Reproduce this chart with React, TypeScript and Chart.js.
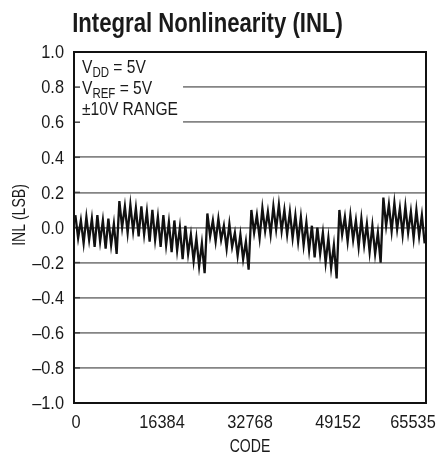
import React, { useEffect, useRef } from 'react';
import { Chart, registerables } from 'chart.js';

Chart.register(...registerables);

const TITLE = 'Integral Nonlinearity (INL)';
const X_TITLE = 'CODE';
const Y_TITLE = 'INL (LSB)';
const X_TICKS = [0, 16384, 32768, 49152, 65535];
const Y_TICKS = [-1, -0.8, -0.6, -0.4, -0.2, 0, 0.2, 0.4, 0.6, 0.8, 1];
const CODES_PER_TOOTH = 1024;

// peak of each 1024-code tooth (LSB)
const TOOTH_PEAKS = [
  0.07, 0.04, 0.06, 0.05, 0.07, 0.04, 0.05, 0.02,
  0.15, 0.12, 0.13, 0.11, 0.12, 0.09, 0.10, 0.06, 0.07, 0.03, 0.04, 0.00, 0.01, -0.04, -0.06, -0.09,
  0.08, 0.04, 0.05, 0.01, 0.02, -0.03, -0.04, -0.08,
  0.10, 0.07, 0.11, 0.09, 0.12, 0.13, 0.10, 0.09, 0.07, 0.06, 0.03, 0.01, 0.00, -0.03, -0.06, -0.10,
  0.10, 0.06, 0.07, 0.04, 0.05, 0.02, 0.01, -0.03,
  0.17, 0.13, 0.14, 0.11, 0.12, 0.09, 0.10, 0.07,
];
// trough of each 1024-code tooth (LSB)
const TOOTH_TROUGHS = [
  -0.06, -0.09, -0.07, -0.11, -0.08, -0.12, -0.10, -0.15,
  0.00, -0.03, -0.02, -0.05, -0.04, -0.08, -0.07, -0.11, -0.10, -0.14, -0.13, -0.18, -0.15, -0.19, -0.22, -0.26,
  -0.05, -0.08, -0.07, -0.12, -0.11, -0.16, -0.18, -0.24,
  -0.03, -0.06, -0.02, -0.04, -0.01, -0.02, -0.04, -0.06, -0.08, -0.10, -0.13, -0.17, -0.15, -0.20, -0.23, -0.29,
  -0.04, -0.08, -0.07, -0.11, -0.10, -0.14, -0.15, -0.20,
  0.01, -0.02, -0.01, -0.04, -0.03, -0.06, -0.05, -0.09,
];

const NOTES = [
  { main: 'V', sub: 'DD', rest: ' = 5V' },
  { main: 'V', sub: 'REF', rest: ' = 5V' },
  { main: '\u00B110V RANGE', sub: '', rest: '' },
];
const NOTE_BOX_CODE = 20300;
const NOTE_BOX_INL = 0.55;

const FONT = "'Liberation Sans', Arial, sans-serif";
const TEXT_COLOR = '#1a1a1a';

function fmtY(v: number): string {
  if (Math.abs(v) < 1e-9) return '0.0';
  return v < 0 ? '\u2013' + Math.abs(v).toFixed(1) : v.toFixed(1);
}

// draw horizontally condensed text
function condText(
  ctx: CanvasRenderingContext2D,
  text: string,
  x: number,
  y: number,
  font: string,
  sx: number,
  align: CanvasTextAlign,
  baseline: CanvasTextBaseline,
  rot = 0
): number {
  ctx.save();
  ctx.font = font;
  ctx.textAlign = align;
  ctx.textBaseline = baseline;
  ctx.fillStyle = TEXT_COLOR;
  ctx.translate(x, y);
  if (rot) ctx.rotate(rot);
  ctx.scale(sx, 1);
  ctx.fillText(text, 0, 0);
  const w = ctx.measureText(text).width * sx;
  ctx.restore();
  return w;
}

const decor = {
  id: 'decor',
  beforeDatasetsDraw(chart: any) {
    const { ctx, chartArea: a, scales } = chart;
    const x = scales.x;
    const y = scales.y;
    ctx.save();
    ctx.fillStyle = '#ffffff';
    const r = x.getPixelForValue(NOTE_BOX_CODE);
    const b = y.getPixelForValue(NOTE_BOX_INL);
    ctx.fillRect(a.left, a.top, r - a.left, b - a.top);
    ctx.strokeStyle = '#444';
    ctx.lineWidth = 1.5;
    for (const v of Y_TICKS) {
      const py = y.getPixelForValue(v);
      ctx.beginPath();
      ctx.moveTo(a.left, py);
      ctx.lineTo(a.left + 6, py);
      ctx.stroke();
    }
    ctx.restore();
  },
  afterDraw(chart: any) {
    const { ctx, chartArea: a, scales } = chart;
    const x = scales.x;
    const y = scales.y;
    ctx.save();
    ctx.strokeStyle = '#111';
    ctx.lineWidth = 2;
    ctx.strokeRect(a.left, a.top, a.right - a.left, a.bottom - a.top);
    ctx.restore();

    // title
    condText(ctx, TITLE, 207.5, 32, `bold 27px ${FONT}`, 0.82, 'center', 'alphabetic');

    // notes
    let by = a.top + 21;
    for (const n of NOTES) {
      let px = a.left + 8;
      px += condText(ctx, n.main, px, by, `19px ${FONT}`, 0.82, 'left', 'alphabetic');
      if (n.sub) {
        px += condText(ctx, n.sub, px, by + 4, `14px ${FONT}`, 0.82, 'left', 'alphabetic');
        condText(ctx, n.rest, px, by, `19px ${FONT}`, 0.82, 'left', 'alphabetic');
      }
      by += 21;
    }

    // y tick labels
    for (const v of Y_TICKS) {
      condText(ctx, fmtY(v), a.left - 10, y.getPixelForValue(v) + 1, `19px ${FONT}`, 0.86, 'right', 'middle');
    }

    // x tick labels
    X_TICKS.forEach((v, i) => {
      let px = x.getPixelForValue(v);
      if (i === 0) px += 2;
      if (i === X_TICKS.length - 1) px -= 13;
      condText(ctx, String(v), px, a.bottom + 25, `19px ${FONT}`, 0.86, 'center', 'alphabetic');
    });

    // axis titles
    condText(ctx, X_TITLE, (a.left + a.right) / 2, a.bottom + 49, `18.5px ${FONT}`, 0.76, 'center', 'alphabetic');
    condText(ctx, Y_TITLE, 25, 215, `18.5px ${FONT}`, 0.76, 'center', 'alphabetic', -Math.PI / 2);
  },
};

export default function App() {
  const ref = useRef<HTMLCanvasElement | null>(null);
  useEffect(() => {
    if (!ref.current) return;
    const pts: { x: number; y: number }[] = [];
    TOOTH_PEAKS.forEach((p, k) => {
      pts.push({ x: k * CODES_PER_TOOTH + CODES_PER_TOOTH / 4, y: p });
      pts.push({ x: k * CODES_PER_TOOTH + (3 * CODES_PER_TOOTH) / 4, y: TOOTH_TROUGHS[k] });
    });
    const chart = new Chart(ref.current, {
      type: 'line',
      data: {
        datasets: [
          {
            data: pts,
            borderColor: '#111',
            borderWidth: 2.3,
            pointRadius: 0,
            tension: 0,
          },
        ],
      },
      options: {
        animation: false,
        responsive: false,
        layout: { padding: { top: 52, right: 22, left: 0, bottom: 0 } },
        plugins: {
          legend: { display: false },
          tooltip: { enabled: false },
          title: { display: false },
        },
        scales: {
          x: {
            type: 'linear',
            min: 0,
            max: 65535,
            afterBuildTicks: (s: any) => {
              s.ticks = X_TICKS.map((v) => ({ value: v }));
            },
            ticks: { display: false },
            grid: { display: false, drawTicks: false },
            border: { display: false },
            afterFit: (s: any) => {
              s.height = 52;
            },
          },
          y: {
            type: 'linear',
            min: -1,
            max: 1,
            afterBuildTicks: (s: any) => {
              s.ticks = Y_TICKS.map((v) => ({ value: v }));
            },
            ticks: { display: false },
            grid: { color: '#858585', lineWidth: 1.8, drawTicks: false },
            border: { display: false },
            afterFit: (s: any) => {
              s.width = 74;
            },
          },
        },
      },
      plugins: [decor],
    });
    return () => chart.destroy();
  }, []);
  return (
    <div style={{ position: 'fixed', left: 0, top: 0, width: 448, height: 455, background: '#fff' }}>
      <canvas ref={ref} width={448} height={455} style={{ display: 'block', width: 448, height: 455 }} />
    </div>
  );
}
